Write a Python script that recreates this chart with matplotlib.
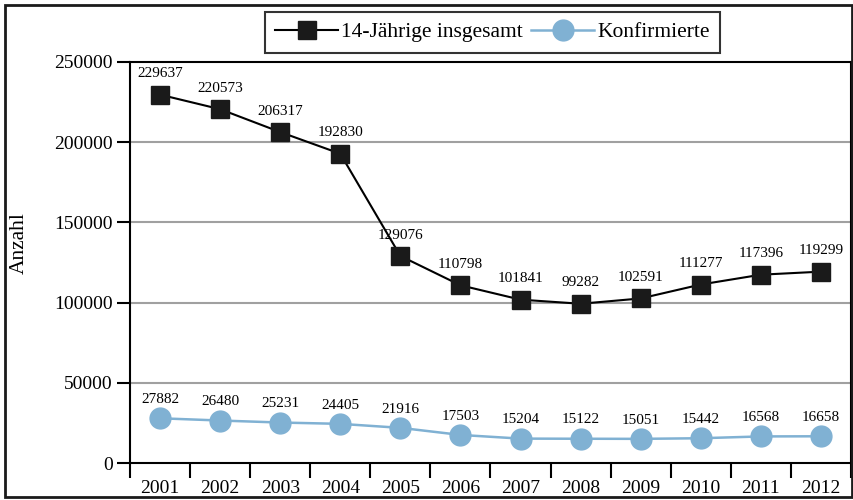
import matplotlib
matplotlib.use("Agg")
import matplotlib.pyplot as plt
from matplotlib.patches import Rectangle
import numpy as np

years = ["2001", "2002", "2003", "2004", "2005", "2006", "2007", "2008", "2009", "2010", "2011", "2012"]
total_14 = [229637, 220573, 206317, 192830, 129076, 110798, 101841, 99282, 102591, 111277, 117396, 119299]
konfirmierte = [27882, 26480, 25231, 24405, 21916, 17503, 15204, 15122, 15051, 15442, 16568, 16658]
yticks = [0, 50000, 100000, 150000, 200000, 250000]

plt.rcParams['font.family'] = ['Liberation Serif', 'DejaVu Serif']

fig = plt.figure(figsize=(8.54, 5.0), dpi=100)
ax = fig.add_axes([130/854, 37/500, 721/854, 401/500])

blue = '#80b1d3'
x = np.arange(len(years))
ax.plot(x, total_14, color='black', lw=1.5, marker='s', markersize=13,
        markerfacecolor='#1a1a1a', markeredgecolor='#1a1a1a', label='14-Jährige insgesamt', zorder=3)
ax.plot(x, konfirmierte, color=blue, lw=1.8, marker='o', markersize=15,
        markerfacecolor=blue, markeredgecolor=blue, label='Konfirmierte', zorder=3)

for xi, v in zip(x, total_14):
    ax.annotate(str(v), (xi, v), xytext=(0, 15), textcoords='offset points',
                ha='center', va='center', fontsize=11)
for xi, v in zip(x, konfirmierte):
    ax.annotate(str(v), (xi, v), xytext=(0, 13.5), textcoords='offset points',
                ha='center', va='center', fontsize=11)

ax.set_xlim(-0.5, len(years) - 0.5)
ax.set_ylim(0, 250000)
ax.set_yticks(yticks)
ax.set_yticklabels([str(t) for t in yticks], fontsize=14)
for t in yticks[1:-1]:
    ax.axhline(t, color='#a0a0a0', lw=1.5, zorder=1)

ax.set_xticks(x)
ax.set_xticklabels(years, fontsize=14)
ax.set_xticks(np.arange(-0.5, len(years)), minor=True)
ax.tick_params(axis='x', which='major', length=0, pad=12)
ax.tick_params(axis='x', which='minor', length=11, width=1.5, direction='out')
ax.tick_params(axis='y', length=9.5, width=1.5, direction='out', pad=3)

for s in ax.spines.values():
    s.set_linewidth(1.5)
    s.set_color('black')

fig.text(19.5/854, 1 - 243/500, 'Anzahl', rotation=90, ha='center', va='center', fontsize=15.5)

leg = fig.legend(loc='upper center', bbox_to_anchor=(492.5/854, 0.977), ncol=2,
                 fontsize=15.5, frameon=True, fancybox=False, handlelength=2.9,
                 columnspacing=0.4, handletextpad=0.15, borderpad=0.5, borderaxespad=0)
leg.get_frame().set_edgecolor('black')
leg.get_frame().set_linewidth(1.5)

fig.patches.append(Rectangle((5/854, 3/500), 847/854, 492/500, transform=fig.transFigure,
                             fill=False, edgecolor='#1a1a1a', lw=2))

fig.savefig('out.png', dpi=100)
